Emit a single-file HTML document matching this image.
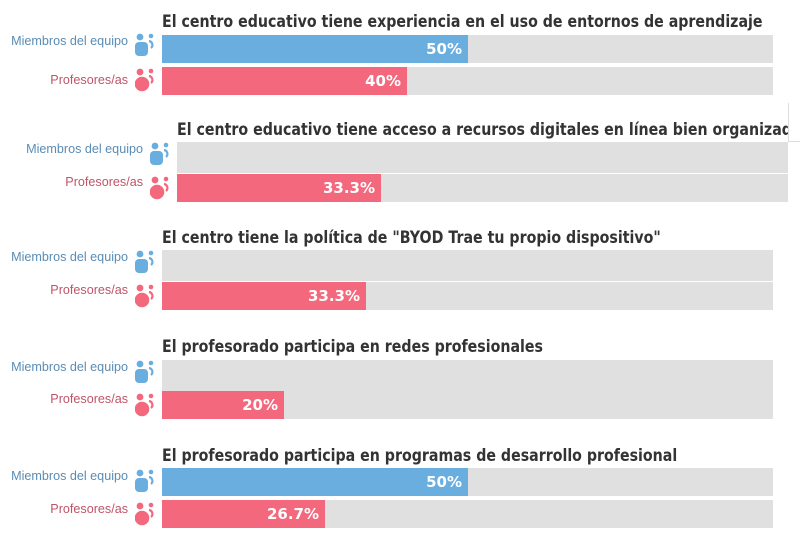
<!DOCTYPE html>
<html><head><meta charset="utf-8"><style>
body{margin:0;width:800px;height:537px;background:#fff;position:relative;overflow:hidden;font-family:"DejaVu Sans","Liberation Sans",sans-serif}
.t{position:absolute;font-weight:bold;font-size:16.5px;color:#333;white-space:nowrap;transform:scaleX(0.86);transform-origin:left top}
.tw{position:absolute;overflow:hidden;height:24px}
.bg{position:absolute;background:#e0e0e0;height:28px}
.b{position:absolute;height:28px;color:#fff;font-weight:bold;font-size:15px;line-height:28px;text-align:right;box-sizing:border-box;padding-right:6px}
.bl{background:#6aaee0}.rd{background:#f3687c}
.l{position:absolute;font-size:12.6px;text-align:right;width:140px;font-family:"Liberation Sans","DejaVu Sans",sans-serif}
.lb{color:#5a8cb4}.lr{color:#c05469}
svg{position:absolute}
</style></head><body>
<svg width="0" height="0"><defs>
<g id="ib"><circle cx="5" cy="4" r="3.4" fill="#6aaee0"/><rect x="0" y="9" width="13" height="14" rx="4" fill="#6aaee0"/><circle cx="16" cy="3" r="2.3" fill="#6aaee0"/><path d="M14 8 A4 4 0 0 1 16 15" stroke="#6aaee0" stroke-width="2.2" fill="none"/></g>
<g id="ir"><circle cx="5" cy="4" r="3.4" fill="#f3687c"/><circle cx="7" cy="16" r="7.3" fill="#f3687c"/><circle cx="16" cy="3" r="2.3" fill="#f3687c"/><path d="M14 8 A4 4 0 0 1 16 15" stroke="#f3687c" stroke-width="2.2" fill="none"/></g>
</defs></svg>

<div class="tw" style="left:162px;top:10px;width:638px"><div class="t" style="left:0;top:2px">El centro educativo tiene experiencia en el uso de entornos de aprendizaje</div></div>
<div class="l lb" style="left:-12px;top:34px">Miembros del equipo</div>
<div class="l lr" style="left:-12px;top:73px">Profesores/as</div>
<svg style="left:135px;top:33px" width="22" height="25"><use href="#ib"/></svg>
<svg style="left:135px;top:68px" width="22" height="25"><use href="#ir"/></svg>
<div class="bg" style="left:162px;top:35px;width:611px"></div>
<div class="b bl" style="left:162px;top:35px;width:306px">50%</div>
<div class="bg" style="left:162px;top:67px;width:611px"></div>
<div class="b rd" style="left:162px;top:67px;width:245px">40%</div>

<div style="position:absolute;left:788px;top:103px;width:1px;height:39px;background:#ddd"></div>
<div style="position:absolute;left:788px;top:141px;width:12px;height:1px;background:#ddd"></div>
<div class="tw" style="left:177px;top:118px;width:611px"><div class="t" style="left:0;top:2px">El centro educativo tiene acceso a recursos digitales en línea bien organizados</div></div>
<div class="l lb" style="left:3px;top:142px">Miembros del equipo</div>
<div class="l lr" style="left:3px;top:175px">Profesores/as</div>
<svg style="left:150px;top:142px" width="22" height="25"><use href="#ib"/></svg>
<svg style="left:150px;top:176px" width="22" height="25"><use href="#ir"/></svg>
<div class="bg" style="left:177px;top:142px;width:611px;height:31px"></div>
<div class="bg" style="left:177px;top:174px;width:611px"></div>
<div class="b rd" style="left:177px;top:174px;width:204px">33.3%</div>

<div class="t" style="left:162px;top:228px">El centro tiene la política de "BYOD Trae tu propio dispositivo"</div>
<div class="l lb" style="left:-12px;top:250px">Miembros del equipo</div>
<div class="l lr" style="left:-12px;top:283px">Profesores/as</div>
<svg style="left:135px;top:250px" width="22" height="25"><use href="#ib"/></svg>
<svg style="left:135px;top:284px" width="22" height="25"><use href="#ir"/></svg>
<div class="bg" style="left:162px;top:250px;width:611px;height:31px"></div>
<div class="bg" style="left:162px;top:282px;width:611px"></div>
<div class="b rd" style="left:162px;top:282px;width:204px">33.3%</div>

<div class="t" style="left:162px;top:337px">El profesorado participa en redes profesionales</div>
<div class="l lb" style="left:-12px;top:360px">Miembros del equipo</div>
<div class="l lr" style="left:-12px;top:392px">Profesores/as</div>
<svg style="left:135px;top:360px" width="22" height="25"><use href="#ib"/></svg>
<svg style="left:135px;top:393px" width="22" height="25"><use href="#ir"/></svg>
<div class="bg" style="left:162px;top:360px;width:611px;height:31px"></div>
<div class="bg" style="left:162px;top:391px;width:611px"></div>
<div class="b rd" style="left:162px;top:391px;width:122px">20%</div>

<div class="t" style="left:162px;top:446px">El profesorado participa en programas de desarrollo profesional</div>
<div class="l lb" style="left:-12px;top:469px">Miembros del equipo</div>
<div class="l lr" style="left:-12px;top:502px">Profesores/as</div>
<svg style="left:135px;top:469px" width="22" height="25"><use href="#ib"/></svg>
<svg style="left:135px;top:502px" width="22" height="25"><use href="#ir"/></svg>
<div class="bg" style="left:162px;top:468px;width:611px"></div>
<div class="b bl" style="left:162px;top:468px;width:306px">50%</div>
<div class="bg" style="left:162px;top:500px;width:611px"></div>
<div class="b rd" style="left:162px;top:500px;width:163px">26.7%</div>
</body></html>
